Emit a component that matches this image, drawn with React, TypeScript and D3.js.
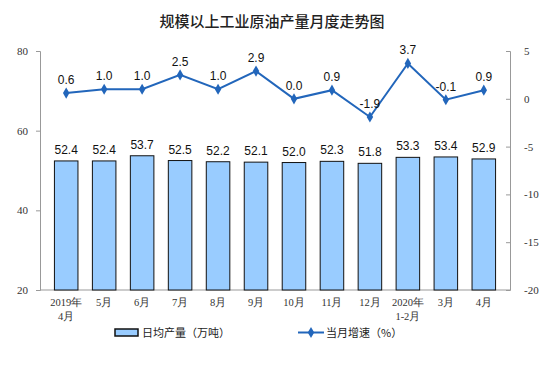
import React, { useEffect, useRef } from 'react';
import * as d3 from 'd3';

const categories = ['2019年\n4月', '5月', '6月', '7月', '8月', '9月', '10月', '11月', '12月', '2020年\n1-2月', '3月', '4月'];
const output = [52.4, 52.4, 53.7, 52.5, 52.2, 52.1, 52.0, 52.3, 51.8, 53.3, 53.4, 52.9];
const growth = [0.6, 1.0, 1.0, 2.5, 1.0, 2.9, 0.0, 0.9, -1.9, 3.7, -0.1, 0.9];
const leftTicks = [20, 40, 60, 80];
const rightTicks = [-20, -15, -10, -5, 0, 5];

const App = () => {
  const svgRef = useRef<SVGSVGElement>(null);

  useEffect(() => {
    const svg = d3.select(svgRef.current);
    svg.selectAll('*').remove();

    const left = 40, right = 510, top = 51, bottom = 290;
    const serif = '"Liberation Serif", "Times New Roman", serif';
    const sans = '"Liberation Sans", Arial, sans-serif';
    const cjk = '"Noto Sans CJK SC", sans-serif';

    const x = d3.scaleBand().domain(categories).range([left, right]).padding(0.38);
    const yL = d3.scaleLinear().domain([20, 80]).range([bottom, top]);
    const yR = d3.scaleLinear().domain([-20, 5]).range([bottom, top]);
    const cx = (d: string) => (x(d) as number) + x.bandwidth() / 2;

    svg.append('text')
      .attr('x', 272).attr('y', 27)
      .attr('text-anchor', 'middle')
      .attr('font-family', cjk).attr('font-size', 15).attr('font-weight', 500).attr('fill', '#222')
      .text('规模以上工业原油产量月度走势图');

    // left axis
    const gl = svg.append('g').attr('transform', `translate(${left},0)`)
      .call(d3.axisLeft(yL).tickValues(leftTicks).tickSize(4).tickPadding(8).tickFormat((d) => String(d)));
    gl.selectAll('path, line').attr('stroke', '#999');
    gl.selectAll('text').attr('font-family', serif).attr('font-size', 11).attr('fill', '#333');

    // right axis (hyphen minus like the original)
    const gr = svg.append('g').attr('transform', `translate(${right},0)`)
      .call(d3.axisRight(yR).tickValues(rightTicks).tickSize(-4).tickPadding(14).tickFormat((d) => String(d)));
    gr.selectAll('path, line').attr('stroke', '#999');
    gr.selectAll('text').attr('font-family', serif).attr('font-size', 11).attr('fill', '#333');

    // bottom axis
    svg.append('line')
      .attr('x1', left).attr('x2', right).attr('y1', bottom).attr('y2', bottom)
      .attr('stroke', '#999');

    const xl = svg.append('g');
    categories.forEach((c) => {
      const t = xl.append('text')
        .attr('x', cx(c)).attr('y', bottom + 16)
        .attr('text-anchor', 'middle')
        .attr('font-family', serif).attr('font-size', 10.5).attr('fill', '#333');
      c.split('\n').forEach((s, i) => {
        t.append('tspan').attr('x', cx(c)).attr('dy', i === 0 ? 0 : 14).text(s);
      });
    });

    // bars
    svg.selectAll('.bar').data(output).enter().append('rect')
      .attr('x', (_, i) => x(categories[i]) as number)
      .attr('y', (d) => yL(d))
      .attr('width', x.bandwidth())
      .attr('height', (d) => bottom - yL(d))
      .attr('fill', '#99ccff').attr('stroke', '#111').attr('stroke-width', 1);

    svg.selectAll('.bar-label').data(output).enter().append('text')
      .attr('x', (_, i) => cx(categories[i]))
      .attr('y', (d) => yL(d) - 7)
      .attr('text-anchor', 'middle')
      .attr('font-family', sans).attr('font-size', 12).attr('fill', '#111')
      .text((d) => d.toFixed(1));

    // line
    const line = d3.line<number>()
      .x((_, i) => cx(categories[i]))
      .y((d) => yR(d));
    svg.append('path').datum(growth)
      .attr('d', line).attr('fill', 'none')
      .attr('stroke', '#2266bb').attr('stroke-width', 2);

    const diamond = d3.symbol().type(d3.symbolDiamond).size(36);
    svg.selectAll('.pt').data(growth).enter().append('path')
      .attr('d', diamond)
      .attr('transform', (d, i) => `translate(${cx(categories[i])},${yR(d)})`)
      .attr('fill', '#2266bb');

    svg.selectAll('.pt-label').data(growth).enter().append('text')
      .attr('x', (_, i) => cx(categories[i]))
      .attr('y', (d) => yR(d) - 9)
      .attr('text-anchor', 'middle')
      .attr('font-family', sans).attr('font-size', 12).attr('fill', '#111')
      .text((d) => d.toFixed(1));

    // legend
    const lg = svg.append('g');
    lg.append('rect').attr('x', 115).attr('y', 329).attr('width', 23).attr('height', 7)
      .attr('fill', '#99ccff').attr('stroke', '#111').attr('stroke-width', 1.5);
    lg.append('text').attr('x', 142).attr('y', 337)
      .attr('font-family', cjk).attr('font-size', 11).attr('fill', '#222')
      .text('日均产量（万吨）');
    lg.append('line').attr('x1', 298).attr('x2', 324).attr('y1', 332.5).attr('y2', 332.5)
      .attr('stroke', '#2266bb').attr('stroke-width', 2);
    lg.append('path').attr('d', diamond).attr('transform', 'translate(311,332.5)').attr('fill', '#2266bb');
    lg.append('text').attr('x', 326).attr('y', 337)
      .attr('font-family', cjk).attr('font-size', 11).attr('fill', '#222')
      .text('当月增速（%）');
  }, []);

  return (
    <svg ref={svgRef} width={550} height={366}
      style={{ position: 'absolute', left: 0, top: 0, background: '#fff' }} />
  );
};

export default App;
